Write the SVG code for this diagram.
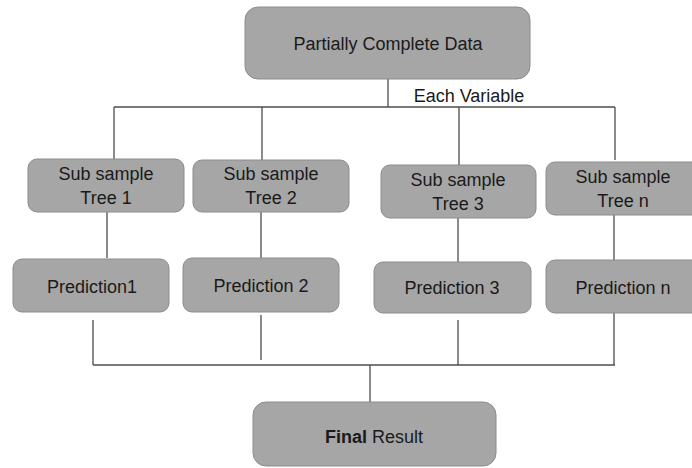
<svg xmlns="http://www.w3.org/2000/svg" width="692" height="468" viewBox="0 0 692 468">
<style>
.box{fill:#a6a6a6;stroke:#8c8c8c;stroke-width:1}
.t{font-family:"Liberation Sans",Arial,sans-serif;font-size:18px;fill:#1a1a1a;text-anchor:middle}
.ln{stroke:#4d4d4d;stroke-width:1.3;fill:none}
</style>
<rect width="692" height="468" fill="#ffffff"/>
<g id="connectors">
<path class="ln" d="M388,79V107M114,107H615M114,107V160M262,107V160M459,107V165M615,107V160"/>
<path class="ln" d="M107,212V258M261,212V258M458,218V262M614,215V260"/>
<path class="ln" d="M93,320V365M261,315V360M458,320V365M614,313V365M93,365H615M370,365V402"/>
</g>
<g id="top">
<rect class="box" x="245" y="7" width="285" height="72" rx="13"/>
<text class="t" x="388" y="50">Partially Complete Data</text>
</g>
<g id="label-each">
<text class="t" x="469" y="102">Each Variable</text>
</g>
<g id="tree1">
<rect class="box" x="28" y="159" width="156" height="53" rx="9"/>
<text class="t" x="106" y="180">Sub sample</text>
<text class="t" x="106" y="204">Tree 1</text>
</g>
<g id="tree2">
<rect class="box" x="193" y="160" width="156" height="52" rx="9"/>
<text class="t" x="271" y="180">Sub sample</text>
<text class="t" x="271" y="204">Tree 2</text>
</g>
<g id="tree3">
<rect class="box" x="381" y="165" width="155" height="53" rx="9"/>
<text class="t" x="458" y="186">Sub sample</text>
<text class="t" x="458" y="210">Tree 3</text>
</g>
<g id="treen">
<rect class="box" x="546" y="162" width="156" height="53" rx="9"/>
<text class="t" x="623" y="183">Sub sample</text>
<text class="t" x="623" y="207">Tree n</text>
</g>
<g id="pred1">
<rect class="box" x="13" y="259" width="156" height="53" rx="9"/>
<text class="t" x="92" y="293">Prediction1</text>
</g>
<g id="pred2">
<rect class="box" x="183" y="258" width="156" height="54" rx="9"/>
<text class="t" x="261" y="292">Prediction 2</text>
</g>
<g id="pred3">
<rect class="box" x="374" y="262" width="157" height="51" rx="9"/>
<text class="t" x="452" y="294">Prediction 3</text>
</g>
<g id="predn">
<rect class="box" x="546" y="260" width="156" height="53" rx="9"/>
<text class="t" x="623" y="294">Prediction n</text>
</g>
<g id="final">
<rect class="box" x="253" y="402" width="243" height="64" rx="13"/>
<text class="t" x="374" y="443"><tspan font-weight="bold">Final</tspan> Result</text>
</g>
</svg>
